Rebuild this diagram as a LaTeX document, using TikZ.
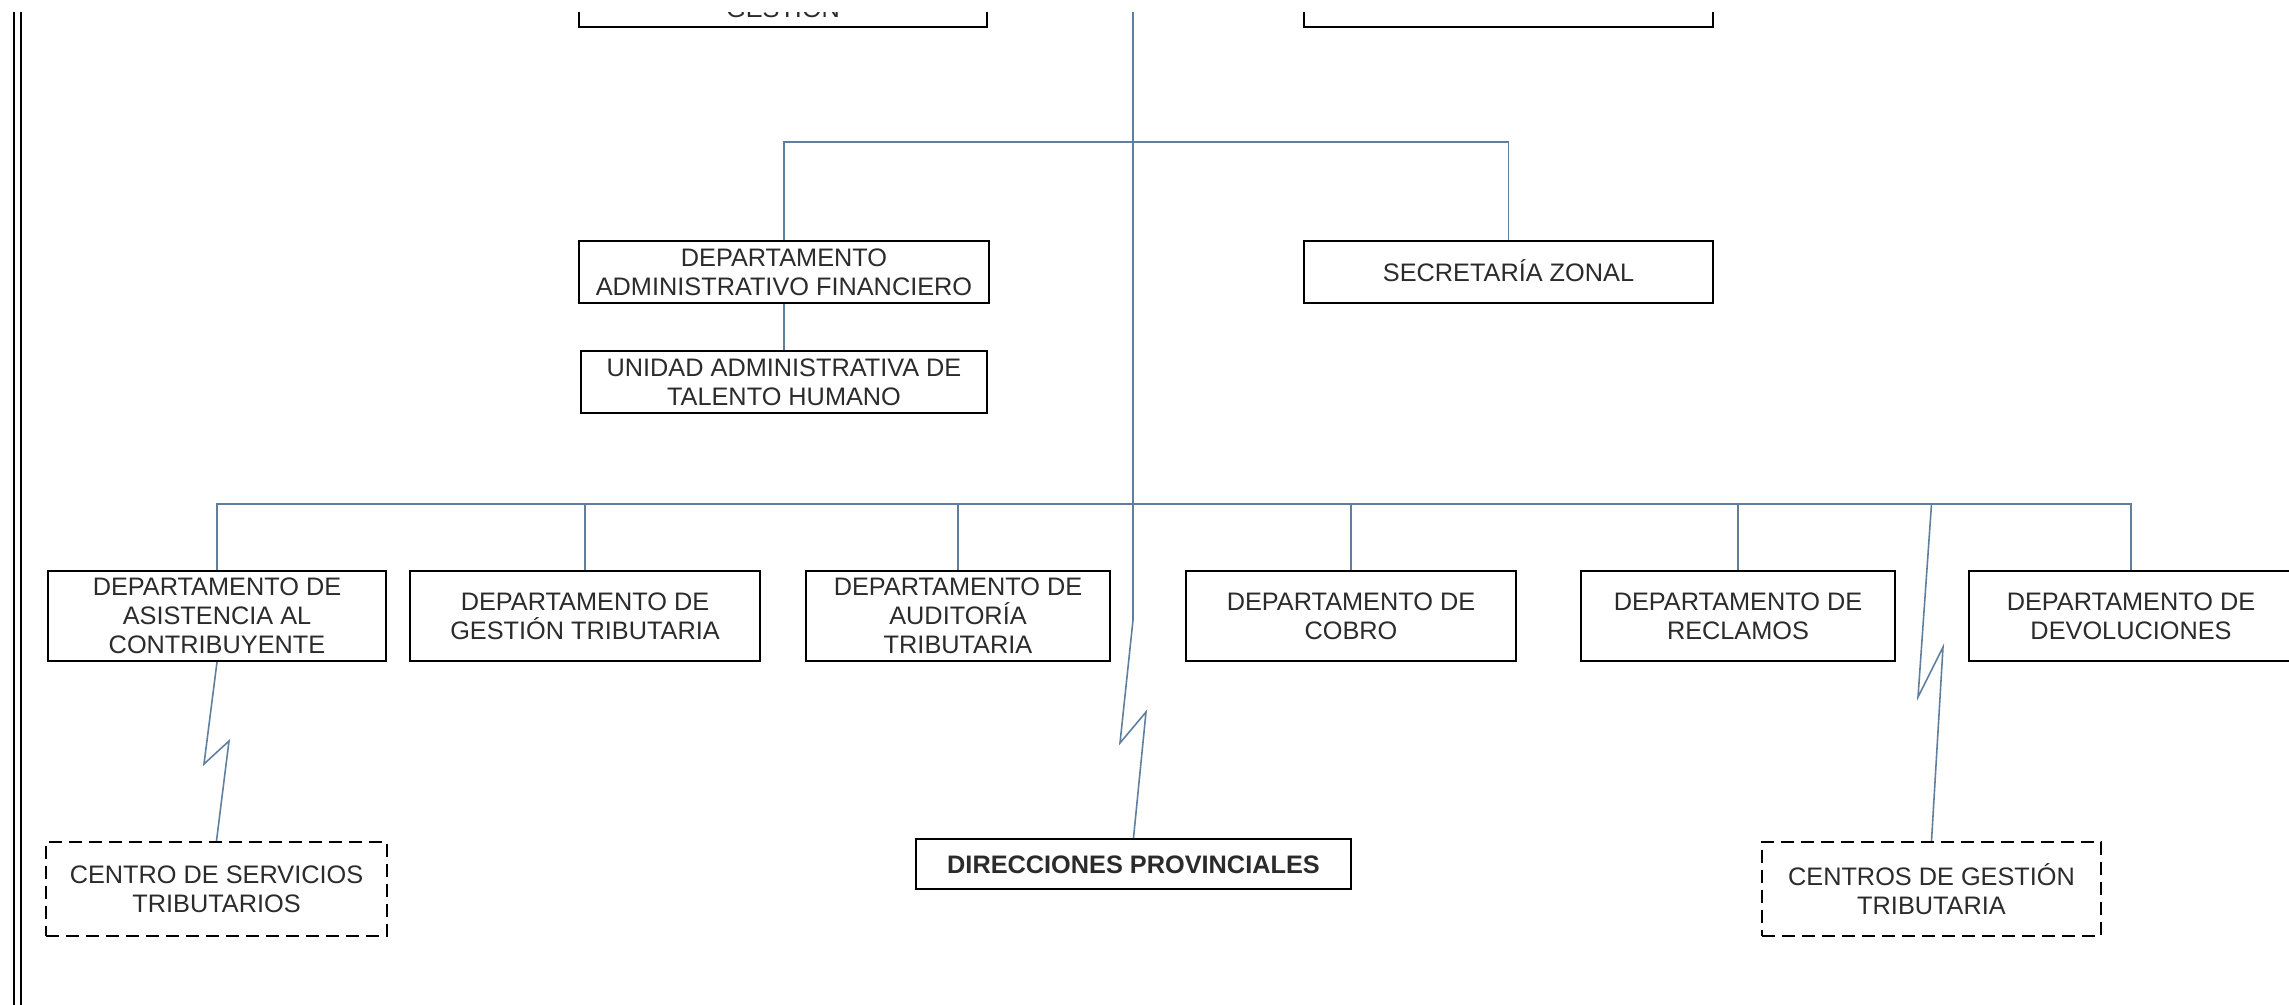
\documentclass[tikz,border=0pt]{standalone}
\usepackage{fontspec}
\setmainfont{Liberation Sans}
\definecolor{conn}{HTML}{5F7F9F}
\definecolor{txt}{HTML}{2B2B2B}
\begin{document}
\begin{tikzpicture}[
  box/.style={draw=black, line width=0.6pt, rectangle, inner sep=0pt, align=center,
    text=txt, font=\fontsize{7.2pt}{8.25pt}\selectfont},
  onel/.style={text height=0.182cm, text depth=0pt},
  dbox/.style={box, dash pattern=on 0.13cm off 0.07cm},
  link/.style={draw=conn, line width=0.45pt},
  frameline/.style={draw=black, line width=0.55pt}
]
\useasboundingbox (0,0) rectangle (22.89,-10.05);
\fill[white] (0,0) rectangle (22.89,-10.05);
\begin{scope}
\clip (0,-0.125) rectangle (22.89,-10.05);
% left double frame
\draw[frameline] (0.14,0) -- (0.14,-10.1);
\draw[frameline] (0.21,0) -- (0.21,-10.1);

% top (cut) boxes
\node[box, onel, minimum width=4.08cm, minimum height=0.38cm] (topL) at (7.83,-0.08) {GESTIÓN};
\node[box, onel, minimum width=4.09cm, minimum height=0.38cm] (topR) at (15.085,-0.08) {};

% second level
\node[box, minimum width=4.10cm, minimum height=0.62cm] (daf) at (7.84,-2.72) {DEPARTAMENTO\\ADMINISTRATIVO FINANCIERO};
\node[box, onel, minimum width=4.09cm, minimum height=0.62cm] (sz) at (15.085,-2.72) {SECRETARÍA ZONAL};
\node[box, minimum width=4.06cm, minimum height=0.62cm] (uath) at (7.84,-3.82) {UNIDAD ADMINISTRATIVA DE\\TALENTO HUMANO};

% departments
\node[box, minimum width=3.38cm, minimum height=0.90cm] (d1) at (2.17,-6.16) {DEPARTAMENTO DE\\ASISTENCIA AL\\CONTRIBUYENTE};
\node[box, minimum width=3.50cm, minimum height=0.90cm] (d2) at (5.85,-6.16) {DEPARTAMENTO DE\\GESTIÓN TRIBUTARIA};
\node[box, minimum width=3.04cm, minimum height=0.90cm] (d3) at (9.58,-6.16) {DEPARTAMENTO DE\\AUDITORÍA\\TRIBUTARIA};
\node[box, minimum width=3.30cm, minimum height=0.90cm] (d4) at (13.51,-6.16) {DEPARTAMENTO DE\\COBRO};
\node[box, minimum width=3.14cm, minimum height=0.90cm] (d5) at (17.38,-6.16) {DEPARTAMENTO DE\\RECLAMOS};
\node[box, minimum width=3.24cm, minimum height=0.90cm] (d6) at (21.31,-6.16) {DEPARTAMENTO DE\\DEVOLUCIONES};

% bottom row
\node[dbox, minimum width=3.41cm, minimum height=0.94cm] (cst) at (2.165,-8.89) {CENTRO DE SERVICIOS\\TRIBUTARIOS};
\node[box, onel, minimum width=4.35cm, minimum height=0.50cm, font=\fontsize{7.2pt}{8.25pt}\selectfont\bfseries] (dp) at (11.335,-8.64) {DIRECCIONES PROVINCIALES};
\node[dbox, minimum width=3.39cm, minimum height=0.94cm] (cgt) at (19.315,-8.89) {CENTROS DE GESTIÓN\\TRIBUTARIA};

% connectors
\coordinate (mtop) at (11.33,0.1);
\coordinate (bus) at (0,-5.04);
\coordinate (ubus) at (0,-1.42);
\draw[link] (mtop) -- (11.33,-6.20) -- (11.20,-7.43) -- (11.46,-7.12) -- (dp.north);
\draw[link] (daf.north) -- (daf.north |- ubus) -| (sz.north);
\draw[link] (daf.south) -- (uath.north);
\draw[link] (d1.north) -- (d1.north |- bus) -| (d6.north);
\foreach \n in {d2,d3,d4,d5} \draw[link] (\n.north) -- (\n.north |- bus);
\draw[link] (d1.south) -- (2.04,-7.64) -- (2.29,-7.41) -- (cst.north);
\draw[link] (cgt.north |- bus) -- (19.18,-6.97) -- (19.43,-6.47) -- (cgt.north);
\end{scope}
\end{tikzpicture}
\end{document}
